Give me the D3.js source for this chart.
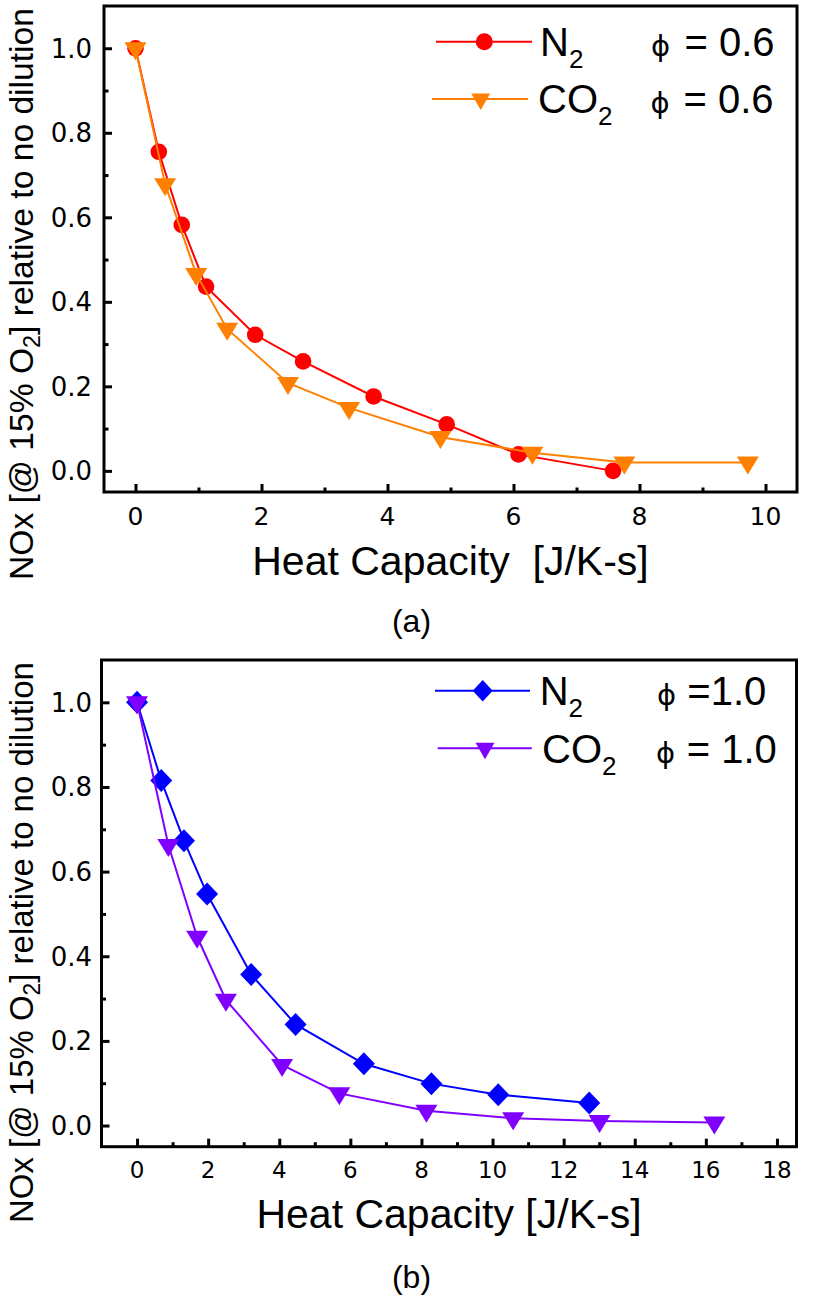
<!DOCTYPE html>
<html>
<head>
<meta charset="utf-8">
<script src="https://cdn.jsdelivr.net/npm/d3@7"></script>
<style>
  html, body { margin: 0; padding: 0; background: #fff; }
  svg { display: block; font-family: "Liberation Sans", Arial, sans-serif; }
  .pre { white-space: pre; }
</style>
</head>
<body>
<div id="chart"></div>
<script>
// ---------- data ----------
// panel (a): phi = 0.6
const aN2X  = [0, 0.37, 0.735, 1.12, 1.90, 2.66, 3.78, 4.94, 6.08, 7.58];
const aN2Y  = [1.0, 0.755, 0.582, 0.436, 0.322, 0.259, 0.176, 0.110, 0.039, 0.0];
const aCO2X = [0, 0.47, 0.963, 1.455, 2.42, 3.39, 4.84, 6.30, 7.76, 9.72];
const aCO2Y = [1.0, 0.678, 0.466, 0.336, 0.208, 0.149, 0.080, 0.043, 0.020, 0.020];

// panel (b): phi = 1.0
const bN2X  = [0, 0.68, 1.32, 1.97, 3.21, 4.46, 6.38, 8.28, 10.16, 12.72];
const bN2Y  = [1.0, 0.815, 0.673, 0.547, 0.357, 0.239, 0.146, 0.099, 0.073, 0.053];
const bCO2X = [0, 0.88, 1.69, 2.50, 4.08, 5.69, 8.14, 10.58, 13.01, 16.24];
const bCO2Y = [1.0, 0.663, 0.446, 0.297, 0.143, 0.076, 0.035, 0.017, 0.011, 0.007];

// ticks
const yTicks  = [0, 0.2, 0.4, 0.6, 0.8, 1.0];
const yMinor  = [0.1, 0.3, 0.5, 0.7, 0.9];
const aXTicks = [0, 2, 4, 6, 8, 10];
const aXMinor = [1, 3, 5, 7, 9];
const bXTicks = [0, 2, 4, 6, 8, 10, 12, 14, 16, 18];
const bXMinor = [1, 3, 5, 7, 9, 11, 13, 15, 17];

// labels
const seriesNames = ["N", "CO"];
const aPhi = ["= 0.6", "= 0.6"];
const bPhi = ["=1.0", "= 1.0"];

// ---------- svg ----------
const W = 822, H = 1298;
const svg = d3.select("#chart").append("svg")
  .attr("width", W)
  .attr("height", H);

const tickFont = "DejaVu Sans";

// marker shapes
function triDown(w, h) {
  return `M${-w/2},${-h/3}L${w/2},${-h/3}L0,${2*h/3}Z`;
}
function diamond(rx, ry) {
  return `M0,${-ry}L${rx},0L0,${ry}L${-rx},0Z`;
}
function drawMarker(g, type, cx, cy, color, big) {
  if (type === "circle") {
    g.append("circle").attr("cx", cx).attr("cy", cy)
      .attr("r", big ? 8.3 : 8.5).attr("fill", color);
  } else if (type === "tri") {
    g.append("path").attr("transform", `translate(${cx},${cy})`)
      .attr("d", big ? triDown(22, 18) : triDown(19, 16.5)).attr("fill", color);
  } else {
    g.append("path").attr("transform", `translate(${cx},${cy})`)
      .attr("d", big ? diamond(11, 11.5) : diamond(10, 10.8)).attr("fill", color);
  }
}

function drawPanel(p) {
  const g = svg.append("g");

  const x = d3.scaleLinear().domain(p.xDomain).range([p.left, p.right]);
  const y = d3.scaleLinear().domain([-0.05, 1.1]).range([p.bottom, p.top]);

  // tick marks (inward), labels drawn separately
  g.append("g").attr("class", "axis")
    .attr("transform", `translate(0,${p.bottom})`)
    .call(d3.axisBottom(x).tickValues(p.xMinor).tickSize(-4.5).tickFormat(""));
  g.append("g").attr("class", "axis")
    .attr("transform", `translate(${p.left},0)`)
    .call(d3.axisLeft(y).tickValues(yMinor).tickSize(-4.5).tickFormat(""));
  g.append("g").attr("class", "axis")
    .attr("transform", `translate(0,${p.bottom})`)
    .call(d3.axisBottom(x).tickValues(p.xTicks).tickSize(-8).tickFormat(""));
  g.append("g").attr("class", "axis")
    .attr("transform", `translate(${p.left},0)`)
    .call(d3.axisLeft(y).tickValues(yTicks).tickSize(-8).tickFormat(""));

  g.selectAll(".axis .domain").remove();
  g.selectAll(".axis text").remove();
  g.selectAll(".axis line").attr("stroke", "#000").attr("stroke-width", 3);

  // tick labels
  g.selectAll(".xlab").data(p.xTicks).join("text")
    .attr("class", "xlab")
    .attr("x", d => x(d))
    .attr("y", p.xLabY)
    .attr("text-anchor", "middle")
    .attr("font-family", tickFont)
    .attr("font-size", p.xFont)
    .text(d3.format("d"));
  g.selectAll(".ylab").data(yTicks).join("text")
    .attr("class", "ylab")
    .attr("x", p.yLabX)
    .attr("y", d => y(d))
    .attr("dy", "0.36em")
    .attr("text-anchor", "end")
    .attr("font-family", tickFont)
    .attr("font-size", p.yFont)
    .text(d3.format(".1f"));

  // series
  const line = d3.line().x(d => x(d[0])).y(d => y(d[1]));
  p.series.forEach(s => {
    const pts = s.x.map((v, i) => [v, s.y[i]]);
    g.append("path").datum(pts)
      .attr("d", line)
      .attr("fill", "none")
      .attr("stroke", s.color)
      .attr("stroke-width", 2);
    pts.forEach(d => drawMarker(g, s.marker, x(d[0]), y(d[1]), s.color, true));
  });

  // frame
  g.append("rect")
    .attr("x", p.left).attr("y", p.top)
    .attr("width", p.right - p.left).attr("height", p.bottom - p.top)
    .attr("fill", "none").attr("stroke", "#000").attr("stroke-width", 3);

  // legend
  p.legend.forEach((r, i) => {
    const s = p.series[i];
    g.append("line")
      .attr("x1", r.x0).attr("x2", r.x1).attr("y1", r.y).attr("y2", r.y)
      .attr("stroke", s.color).attr("stroke-width", 2);
    drawMarker(g, s.marker, r.mx, r.y, s.color, false);

    const t = g.append("text").attr("x", r.tx).attr("y", r.ty).attr("font-size", 40);
    t.append("tspan").text(seriesNames[i]);
    t.append("tspan").attr("font-size", 26).attr("dy", 12).text("2");

    g.append("text").attr("x", r.phiX).attr("y", r.ty)
      .attr("font-family", "DejaVu Sans").attr("font-size", 29).text("ϕ");
    g.append("text").attr("class", "pre").attr("x", r.eqX).attr("y", r.ty)
      .attr("font-size", 40).text(p.phi[i]);
  });

  // x title
  g.append("text").attr("class", "pre")
    .attr("x", (p.left + p.right) / 2).attr("y", p.xTitleY)
    .attr("text-anchor", "middle").attr("font-size", 41)
    .text(p.xTitle);

  // y title (rotated, fitted to measured length)
  const yt = g.append("text").attr("font-size", 33);
  yt.append("tspan").text("NOx [@ 15% O");
  yt.append("tspan").attr("font-size", 23).attr("dy", 7).text("2");
  yt.append("tspan").attr("dy", -7).text("] relative to no dilution");
  const len = yt.node().getComputedTextLength();
  const sx = p.yTitleLen / len;
  yt.attr("transform", `translate(${p.yTitleX},${p.yTitleY}) rotate(-90) scale(${sx},1)`);

  // panel tag
  g.append("text").attr("x", 411.5).attr("y", p.tagY)
    .attr("text-anchor", "middle").attr("font-size", 32)
    .text(p.tag);
}

drawPanel({
  left: 104, right: 797, top: 6, bottom: 492,
  xDomain: [-0.5, 10.5], xTicks: aXTicks, xMinor: aXMinor,
  xFont: 25, yFont: 26, xLabY: 525, yLabX: 92,
  series: [
    { x: aN2X,  y: aN2Y,  color: "#ff0000", marker: "circle" },
    { x: aCO2X, y: aCO2Y, color: "#ff8000", marker: "tri" }
  ],
  legend: [
    { x0: 436, x1: 532, y: 41.7, mx: 484.3, tx: 540, ty: 56, phiX: 651, eqX: 684.5 },
    { x0: 432, x1: 528, y: 99,   mx: 480.7, tx: 538, ty: 113.3, phiX: 650.5, eqX: 683.5 }
  ],
  phi: aPhi,
  xTitle: "Heat Capacity  [J/K-s]", xTitleY: 575,
  yTitleX: 33, yTitleY: 580, yTitleLen: 572,
  tag: "(a)", tagY: 632
});

drawPanel({
  left: 101.5, right: 796.5, top: 660, bottom: 1146.7,
  xDomain: [-1, 18.55], xTicks: bXTicks, xMinor: bXMinor,
  xFont: 23, yFont: 26, xLabY: 1178.3, yLabX: 92,
  series: [
    { x: bN2X,  y: bN2Y,  color: "#0000ff", marker: "diamond" },
    { x: bCO2X, y: bCO2Y, color: "#8000ff", marker: "tri" }
  ],
  legend: [
    { x0: 435,   x1: 530,   y: 690.7, mx: 482.7, tx: 539.7, ty: 705,   phiX: 657, eqX: 687.3 },
    { x0: 437.7, x1: 531.7, y: 748.3, mx: 485,   tx: 542,   ty: 763.3, phiX: 656, eqX: 686.7 }
  ],
  phi: bPhi,
  xTitle: "Heat Capacity [J/K-s]", xTitleY: 1228.3,
  yTitleX: 33, yTitleY: 1223, yTitleLen: 561,
  tag: "(b)", tagY: 1288
});
</script>
</body>
</html>
